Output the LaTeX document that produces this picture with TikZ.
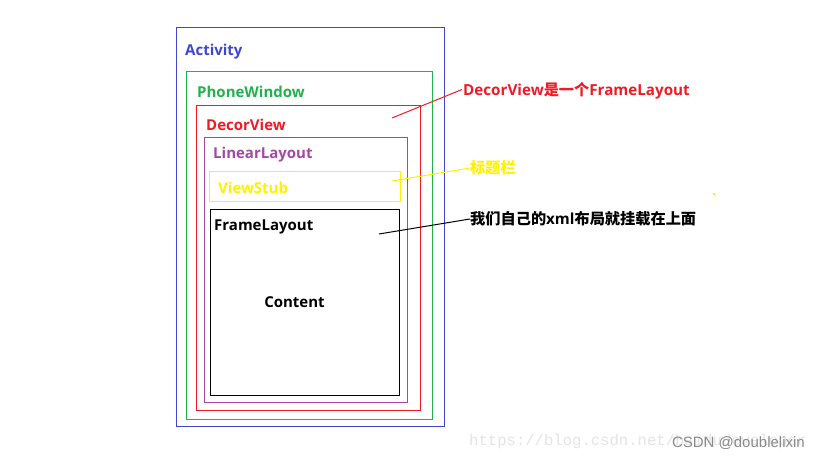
\documentclass[tikz,border=0pt]{standalone}
\usepackage{fontspec}
\setmainfont{Open Sans}
\setsansfont{Liberation Sans}
\newfontfamily\cjk{Noto Sans CJK SC Bold}
\newfontfamily\monof{Liberation Mono}
\definecolor{cblue}{HTML}{3F48CC}
\definecolor{cgreen}{HTML}{22B14C}
\definecolor{cred}{HTML}{ED1C24}
\definecolor{cpurple}{HTML}{A349A4}
\definecolor{cyellow}{HTML}{FFF200}
\definecolor{wmgray}{HTML}{E4E4E4}
\definecolor{csdngray}{HTML}{8A8A8A}
\tikzset{
  box/.style={draw=#1, line width=1pt, anchor=north west, inner sep=0pt},
  lbl/.style={text=#1, anchor=west, inner sep=0pt, font=\fontsize{15}{16}\selectfont\bfseries},
  note/.style={text=#1, anchor=west, inner sep=0pt, font=\fontsize{15.2}{16}\selectfont\bfseries},
  lead/.style={draw=#1, line width=1pt},
}
\begin{document}
\begin{tikzpicture}[x=1pt,y=-1pt]
\useasboundingbox[fill=white] (0,0) rectangle (819,460);
% boxes
\node[box=cblue, minimum width=268pt, minimum height=399pt] (activity) at (176,27) {};
\node[box=cgreen, minimum width=246pt, minimum height=348pt] (phone) at (186,71) {};
\node[box=cred, minimum width=224pt, minimum height=305pt] (decor) at (196,105) {};
\node[box=cpurple, minimum width=203pt, minimum height=265pt] (linear) at (204,137) {};
\node[box=cyellow, minimum width=191pt, minimum height=30pt] (stub) at (209,171) {};
\node[box=black, minimum width=189pt, minimum height=186pt] (frame) at (210,209) {};
% box labels
\node[lbl=cblue] (tact) at (185,52) {Activity};
\node[lbl=cgreen] (tphone) at (197,92) {PhoneWindow};
\node[lbl=cred] (tdecor) at (206,124.5) {DecorView};
\node[lbl=cpurple] (tlinear) at (213,155) {LinearLayout};
\node[lbl=cyellow] (tstub) at (218,187.5) {ViewStub};
\node[lbl=black] (tframe) at (214,227) {FrameLayout};
\node[lbl=black, anchor=center] (tcontent) at (294.5,302) {Content};
% notes
\node[note=cred] (n1) at (463,90.5) {DecorView{\cjk 是一个}FrameLayout};
\node[note=cyellow] (n2) at (470,168) {\cjk 标题栏};
\node[note=black] (n3) at (470,219) {{\cjk 我们自己的}xml{\cjk 布局就挂载在上面}};
\coordinate (p1) at (392,118);
\coordinate (p2) at (392,181);
\coordinate (p3) at (379,234);
\draw[lead=cred] (p1) -- (462,89.5);
\draw[lead=cyellow] (p2) -- (n2.west);
\draw[lead=black] (p3) -- (n3.west);
% stray dot
\fill[cyellow] (713,193) rectangle (715,195);
% watermark
\node[text=wmgray, anchor=west, inner sep=0pt, font=\monof\fontsize{15.6}{16}\selectfont] (wm) at (469,441) {https://blog.csdn.net/baidudeveloper};
\node[text=csdngray, anchor=east, inner sep=0pt, font=\sffamily\fontsize{15}{16}\selectfont] (csdn) at (805,443) {CSDN @doublelixin};
\end{tikzpicture}
\end{document}
